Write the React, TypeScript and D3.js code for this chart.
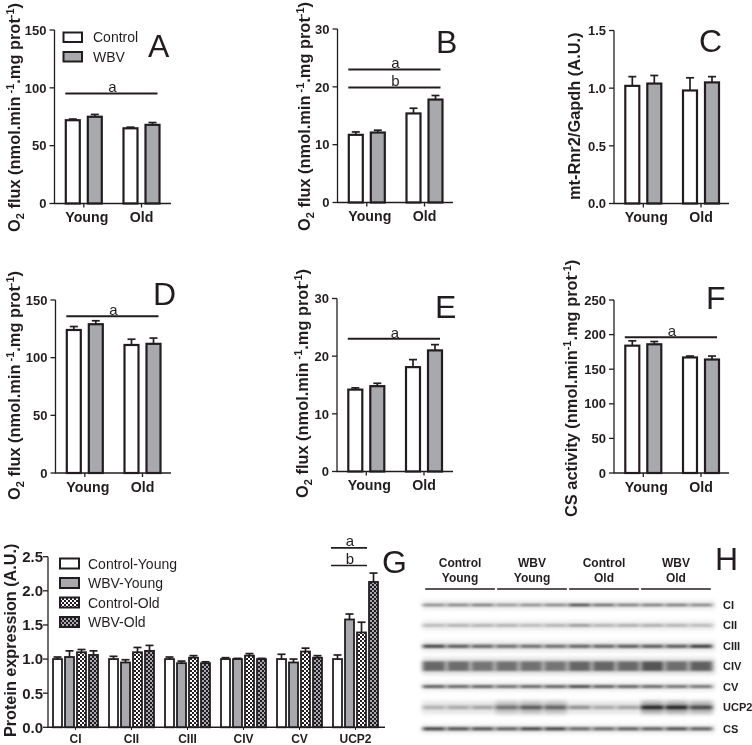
import React from "react";
import * as d3 from "d3";

// ---------- data ----------
const groups = ["Young", "Old"];
const conditions = ["Control", "WBV"];
const aValues = [72, 75, 65, 68];
const aErrors = [1, 2, 1, 2];
const bValues = [11.7, 12.1, 15.4, 17.8];
const bErrors = [0.5, 0.4, 0.9, 0.7];
const cValues = [1.02, 1.04, 0.98, 1.05];
const cErrors = [0.08, 0.07, 0.11, 0.05];
const dValues = [124, 129, 111, 112];
const dErrors = [3, 3, 5, 5];
const eValues = [14.2, 14.8, 18.1, 21];
const eErrors = [0.3, 0.5, 1.3, 1];
const fValues = [184, 186, 167, 164];
const fErrors = [7, 4, 2, 5];

const proteins = ["CI", "CII", "CIII", "CIV", "CV", "UCP2"];
const controlYoung = [1, 1, 1, 1, 1, 1];
const controlYoungErr = [0.03, 0.04, 0.03, 0.02, 0.07, 0.06];
const wbvYoung = [1.03, 0.95, 0.94, 1, 0.95, 1.58];
const wbvYoungErr = [0.09, 0.04, 0.03, 0.01, 0.05, 0.08];
const controlOld = [1.1, 1.1, 1.02, 1.05, 1.11, 1.39];
const controlOldErr = [0.04, 0.07, 0.03, 0.03, 0.05, 0.15];
const wbvOld = [1.06, 1.12, 0.94, 1, 1.02, 2.13];
const wbvOldErr = [0.06, 0.08, 0.02, 0.01, 0.03, 0.13];
const gLegend = ["Control-Young", "WBV-Young", "Control-Old", "WBV-Old"];

const blotHeaders = [["Control", "Young"], ["WBV", "Young"], ["Control", "Old"], ["WBV", "Old"]];
const blotRows = ["CI", "CII", "CIII", "CIV", "CV", "UCP2", "CS"];
const blotCI = [0.5, 0.55, 0.6, 0.45, 0.5, 0.55, 0.88, 0.7, 0.6, 0.6, 0.6, 0.55];
const blotCII = [0.3, 0.35, 0.35, 0.35, 0.3, 0.35, 0.5, 0.35, 0.38, 0.38, 0.35, 0.3];
const blotCIII = [0.85, 0.75, 0.7, 0.65, 0.65, 0.65, 0.7, 0.7, 0.75, 0.75, 0.75, 0.9];
const blotCIV = [0.65, 0.62, 0.58, 0.6, 0.6, 0.58, 0.66, 0.66, 0.64, 0.75, 0.62, 0.68];
const blotCV = [0.75, 0.7, 0.72, 0.65, 0.7, 0.72, 0.85, 0.75, 0.72, 0.68, 0.62, 0.62];
const blotUCP2 = [0.28, 0.32, 0.35, 0.6, 0.72, 0.68, 0.45, 0.32, 0.35, 1, 1, 0.82];
const blotCS = [0.85, 0.8, 0.8, 0.72, 0.85, 0.85, 0.68, 0.68, 0.72, 0.72, 0.78, 0.72];
const blotValues = [blotCI, blotCII, blotCIII, blotCIV, blotCV, blotUCP2, blotCS];

// ---------- style / layout ----------
const INK = "#231f20";
const GREY = "#a7a9ac";
const SANS = "'Liberation Sans', Arial, sans-serif";
const TITLE_SIZE = 16.4;

type Sig = { label: string; value: number };
type Panel = {
  letter: string; lx: number; ly: number;
  x0: number; x1: number; yTop: number; yBot: number; max: number;
  ticks: number[]; fmt: string;
  values: number[]; errors: number[]; sigs: Sig[];
  title: "o2" | "rnr" | "cs"; tx: number; ty: number;
};

const panels: Panel[] = [
  { letter: "A", lx: 148, ly: 57, x0: 54.5, x1: 171, yTop: 30, yBot: 203.5, max: 150, ticks: [0, 50, 100, 150], fmt: "d", values: aValues, errors: aErrors, sigs: [{ label: "a", value: 95.2 }], title: "o2", tx: 20, ty: 232 },
  { letter: "B", lx: 436, ly: 53, x0: 337.5, x1: 453, yTop: 29, yBot: 202.5, max: 30, ticks: [0, 10, 20, 30], fmt: "d", values: bValues, errors: bErrors, sigs: [{ label: "a", value: 23 }, { label: "b", value: 19.9 }], title: "o2", tx: 310, ty: 231 },
  { letter: "C", lx: 699, ly: 52, x0: 614, x1: 729, yTop: 30.5, yBot: 203.5, max: 1.5, ticks: [0, 0.5, 1, 1.5], fmt: ".1f", values: cValues, errors: cErrors, sigs: [], title: "rnr", tx: 580, ty: 200 },
  { letter: "D", lx: 153, ly: 305, x0: 55.5, x1: 171, yTop: 300, yBot: 473, max: 150, ticks: [0, 50, 100, 150], fmt: "d", values: dValues, errors: dErrors, sigs: [{ label: "a", value: 136 }], title: "o2", tx: 20, ty: 500 },
  { letter: "E", lx: 435, ly: 318, x0: 337, x1: 453, yTop: 298.5, yBot: 471.5, max: 30, ticks: [0, 10, 20, 30], fmt: "d", values: eValues, errors: eErrors, sigs: [{ label: "a", value: 23 }], title: "o2", tx: 308, ty: 498 },
  { letter: "F", lx: 706, ly: 309, x0: 614, x1: 729, yTop: 300, yBot: 473, max: 250, ticks: [0, 50, 100, 150, 200, 250], fmt: "d", values: fValues, errors: fErrors, sigs: [{ label: "a", value: 196 }], title: "cs", tx: 577, ty: 517 },
];

function YTitle({ kind, x, y }: { kind: string; x: number; y: number }) {
  const sub = { fontSize: 11 };
  return (
    <text transform={`translate(${x},${y}) rotate(-90)`} fontFamily={SANS} fontWeight={700} fontSize={TITLE_SIZE} fill={INK}>
      {kind === "rnr" && "mt-Rnr2/Gapdh (A.U.)"}
      {kind === "o2" && <>
        O<tspan dy={3.5} style={sub}>2</tspan><tspan dy={-3.5}> flux (nmol.min</tspan>
        <tspan dy={-6} style={sub}> -1</tspan><tspan dy={6}>.mg prot</tspan>
        <tspan dy={-6} style={sub}>-1</tspan><tspan dy={6}>)</tspan>
      </>}
      {kind === "cs" && <>
        CS activity (nmol.min<tspan dy={-6} style={sub}>-1</tspan><tspan dy={6}>.mg prot</tspan>
        <tspan dy={-6} style={sub}>-1</tspan><tspan dy={6}>)</tspan>
      </>}
    </text>
  );
}

function YAxis({ x, y, ticks, fmt, fontSize = 13, gap = 8 }: { x: number; y: d3.ScaleLinear<number, number>; ticks: number[]; fmt: string; fontSize?: number; gap?: number }) {
  const f = d3.format(fmt);
  const [b, t] = y.range();
  return (
    <g>
      <line x1={x} x2={x} y1={b} y2={t} stroke={INK} strokeWidth={1.3} />
      {ticks.map((v) => (
        <g key={v}>
          <line x1={x - 5} x2={x} y1={y(v)} y2={y(v)} stroke={INK} strokeWidth={1.3} />
          <text x={x - gap} y={y(v) + fontSize * 0.36} textAnchor="end" fontFamily={SANS} fontWeight={700} fontSize={fontSize} fill={INK}>{f(v)}</text>
        </g>
      ))}
    </g>
  );
}

function Bar({ x, w, y, v, e, fill, base }: { x: number; w: number; y: d3.ScaleLinear<number, number>; v: number; e: number; fill: string; base: number }) {
  const cx = x + w / 2;
  const capHalf = Math.min(4, w / 2 - 0.5);
  return (
    <g>
      <line x1={cx} x2={cx} y1={y(v)} y2={y(v + e)} stroke={INK} strokeWidth={1.7} />
      <line x1={cx - capHalf} x2={cx + capHalf} y1={y(v + e)} y2={y(v + e)} stroke={INK} strokeWidth={1.7} />
      <rect x={x} y={y(v)} width={w} height={base - y(v)} fill={fill} stroke={INK} strokeWidth={w > 10 ? 2.2 : 1.8} />
    </g>
  );
}

function BarPanel({ p }: { p: Panel }) {
  const y = d3.scaleLinear().domain([0, p.max]).range([p.yBot, p.yTop]);
  const group = d3.scalePoint<string>().domain(groups).range([p.x0 + 29.3, p.x0 + 87]);
  const inner = d3.scalePoint<string>().domain(conditions).range([-11, 11]);
  const barW = 14;
  const bars = groups.flatMap((g, gi) => conditions.map((s, si) => ({
    x: (group(g) as number) + (inner(s) as number) - barW / 2, w: barW,
    v: p.values[gi * 2 + si], e: p.errors[gi * 2 + si], fill: si === 0 ? "#fff" : GREY,
  })));
  const first = bars[0].x - 0.5;
  const last = bars[3].x + barW - 2;
  return (
    <g>
      <YTitle kind={p.title} x={p.tx} y={p.ty} />
      {bars.map((b, i) => <Bar key={i} {...b} y={y} base={p.yBot} />)}
      <YAxis x={p.x0} y={y} ticks={p.ticks} fmt={p.fmt} />
      <line x1={p.x0 - 0.6} x2={p.x1} y1={p.yBot} y2={p.yBot} stroke={INK} strokeWidth={1.4} />
      {groups.map((g) => {
        const c = group(g) as number;
        return (
          <g key={g}>
            <line x1={c} x2={c} y1={p.yBot} y2={p.yBot + 4} stroke={INK} strokeWidth={1.3} />
            <text x={g === "Young" ? c + 3 : c} y={p.yBot + 18.5} textAnchor="middle" fontFamily={SANS} fontWeight={700} fontSize={14.2} fill={INK}>{g}</text>
          </g>
        );
      })}
      {p.sigs.map((s) => (
        <g key={s.label}>
          <line x1={first} x2={last} y1={y(s.value)} y2={y(s.value)} stroke={INK} strokeWidth={2} />
          <text x={(first + last) / 2 + 1} y={y(s.value) - 1} textAnchor="middle" fontFamily={SANS} fontSize={15} fill={INK}>{s.label}</text>
        </g>
      ))}
      <text x={p.lx} y={p.ly} fontFamily={SANS} fontSize={32} fill={INK}>{p.letter}</text>
    </g>
  );
}

function PanelG() {
  const y = d3.scaleLinear().domain([0, 2.5]).range([727.3, 556.7]);
  const groupX = d3.scaleBand<string>().domain(proteins).range([47, 383]).padding(0);
  const series = [
    { v: controlYoung, e: controlYoungErr, fill: "#fff" },
    { v: wbvYoung, e: wbvYoungErr, fill: GREY },
    { v: controlOld, e: controlOldErr, fill: "url(#checkW)" },
    { v: wbvOld, e: wbvOldErr, fill: "url(#checkG)" },
  ];
  const inner = d3.scaleBand<string>().domain(gLegend).range([6, 51]).paddingInner(0.25).paddingOuter(0);
  const legendY = d3.scalePoint<string>().domain(gLegend).range([563.5, 622]);
  const ucpX = groupX("UCP2") as number;
  return (
    <g>
      <text transform="translate(16,737) rotate(-90)" fontFamily={SANS} fontWeight={700} fontSize={16.2} fill={INK}>Protein expression (A.U.)</text>
      {proteins.map((pr, i) => (
        <g key={pr}>
          {series.map((s, si) => (
            <Bar key={si} x={(groupX(pr) as number) + (inner(gLegend[si]) as number)} w={inner.bandwidth()} y={y} v={s.v[i]} e={s.e[i]} fill={s.fill} base={727.3} />
          ))}
          <text x={(groupX(pr) as number) + 28.5} y={743} textAnchor="middle" fontFamily={SANS} fontWeight={700} fontSize={12} fill={INK}>{pr}</text>
          <line x1={(groupX(pr) as number) + 28.5} x2={(groupX(pr) as number) + 28.5} y1={727} y2={730} stroke={INK} strokeWidth={1} />
        </g>
      ))}
      <YAxis x={48} y={y} ticks={[0, 0.5, 1, 1.5, 2, 2.5]} fmt=".1f" fontSize={15} gap={5} />
      <line x1={47.4} x2={385} y1={727.3} y2={727.3} stroke={INK} strokeWidth={1.4} />
      {gLegend.map((l, i) => (
        <g key={l}>
          <rect x={60} y={(legendY(l) as number) - 5} width={19} height={10} fill={series[i].fill} stroke={INK} strokeWidth={2} />
          <text x={88} y={(legendY(l) as number) + 5} fontFamily={SANS} fontSize={14} fill={INK}>{l}</text>
        </g>
      ))}
      {[{ t: "a", v: 2.63 }, { t: "b", v: 2.37 }].map((s) => (
        <g key={s.t}>
          <line x1={ucpX + 4} x2={ucpX + 40} y1={y(s.v)} y2={y(s.v)} stroke={INK} strokeWidth={1.6} />
          <text x={ucpX + 23} y={y(s.v) - 2} textAnchor="middle" fontFamily={SANS} fontSize={15} fill={INK}>{s.t}</text>
        </g>
      ))}
      <text x={382} y={573} fontFamily={SANS} fontSize={32} fill={INK}>G</text>
    </g>
  );
}

function Blot() {
  const laneIdx = d3.range(12).map(String);
  const lane = d3.scaleBand<string>().domain(laneIdx).range([421, 714]).padding(0.08);
  const rowY = d3.scalePoint<string>().domain(blotRows).range([605, 727.3]);
  const thick = [2.4, 2.2, 3.2, 9.5, 2.8, 3.6, 3.2];
  const halo = [8, 8, 10, 16, 8, 13, 8];
  const dark = d3.scaleLinear<string>().domain([0, 1]).range(["#e8e8e8", "#222222"]);
  const headerX = d3.scaleBand<string>().domain(["0", "1", "2", "3"]).range([423, 713]).padding(0.03);
  const offset = [0, 0, 0.5, 0, 0, 0.5, 1.5];
  return (
    <g>
      {blotHeaders.map((h, i) => {
        const bx = headerX(String(i)) as number;
        const cx = bx + headerX.bandwidth() / 2;
        return (
          <g key={i} fontFamily={SANS} fontWeight={700} fontSize={12} fill={INK} textAnchor="middle">
            <text x={cx} y={567}>{h[0]}</text>
            <text x={cx} y={582}>{h[1]}</text>
            <line x1={bx} x2={bx + headerX.bandwidth()} y1={589} y2={589} stroke={INK} strokeWidth={1.4} />
          </g>
        );
      })}
      {blotRows.map((r, ri) => {
        const cy = (rowY(r) as number) + offset[ri];
        return (
          <g key={r}>
            <rect x={422} y={cy - halo[ri] / 2} width={293} height={halo[ri]} fill="#d4d4d6" opacity={ri === 3 ? 0.95 : 0.6} filter="url(#blurBg)" />
            {blotValues[ri].map((v, li) => {
              const x = lane(String(li)) as number;
              return (
                <g key={li}>
                  {ri === 5 && v > 0.5 && <rect x={x} y={cy - 6} width={lane.bandwidth()} height={12} fill="#888" opacity={v * 0.7} filter="url(#blurBg)" />}
                  <rect x={x} y={cy - thick[ri] / 2} width={lane.bandwidth()} height={thick[ri]} fill={dark(v)} filter="url(#blurBand)" />
                </g>
              );
            })}
            <text x={723} y={cy + 4} fontFamily={SANS} fontWeight={700} fontSize={11} fill={INK}>{r}</text>
          </g>
        );
      })}
      <text x={715} y={570} fontFamily={SANS} fontSize={32} fill={INK}>H</text>
    </g>
  );
}

function LegendA() {
  const entries = [{ label: "Control", fill: "#fff" }, { label: "WBV", fill: GREY }];
  const ly = d3.scalePoint<string>().domain(entries.map((e) => e.label)).range([37, 56.5]);
  return (
    <g>
      {entries.map((e) => (
        <g key={e.label}>
          <rect x={63.5} y={(ly(e.label) as number) - 4.5} width={18.5} height={9.5} fill={e.fill} stroke={INK} strokeWidth={2} />
          <text x={93} y={(ly(e.label) as number) + 5} fontFamily={SANS} fontSize={14} fill={INK}>{e.label}</text>
        </g>
      ))}
    </g>
  );
}

export default function App() {
  return (
    <svg width={752} height={745} viewBox="0 0 752 745" style={{ position: "absolute", left: 0, top: 0, display: "block", background: "#fff" }}>
      <defs>
        <pattern id="checkW" width={4} height={4} patternUnits="userSpaceOnUse">
          <rect width={4} height={4} fill="#fff" />
          <rect width={2} height={2} fill={INK} />
          <rect x={2} y={2} width={2} height={2} fill={INK} />
        </pattern>
        <pattern id="checkG" width={4} height={4} patternUnits="userSpaceOnUse">
          <rect width={4} height={4} fill={GREY} />
          <rect width={2} height={2} fill={INK} />
          <rect x={2} y={2} width={2} height={2} fill={INK} />
        </pattern>
        <filter id="blurBand" x="-30%" y="-200%" width="160%" height="500%"><feGaussianBlur stdDeviation="2 0.9" /></filter>
        <filter id="blurBg" x="-10%" y="-60%" width="120%" height="220%"><feGaussianBlur stdDeviation="2" /></filter>
        <filter id="soft" x="0" y="0" width="100%" height="100%"><feGaussianBlur stdDeviation="0.35" /></filter>
      </defs>
      <g filter="url(#soft)">
        <rect width={752} height={745} fill="#fff" />
        {panels.map((p) => <BarPanel key={p.letter} p={p} />)}
        <LegendA />
        <PanelG />
        <Blot />
      </g>
    </svg>
  );
}
